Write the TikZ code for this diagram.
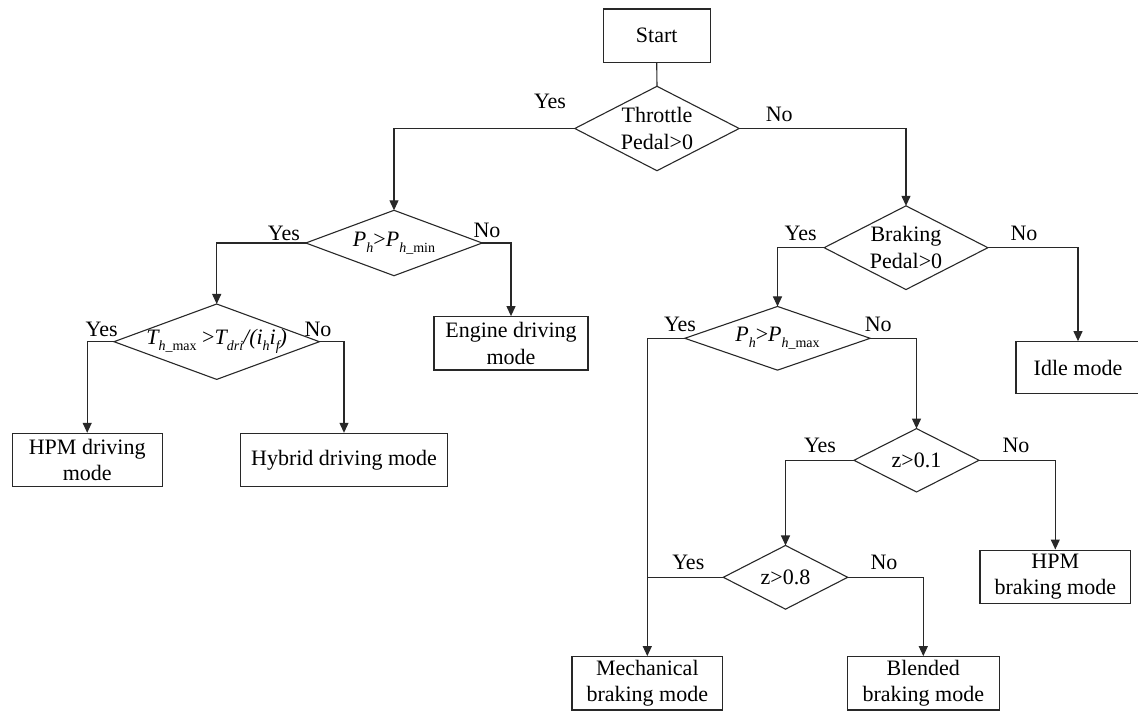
\documentclass[tikz,border=0pt]{standalone}
\usepackage{fontspec}
\setmainfont{Liberation Serif}
\usetikzlibrary{arrows.meta}
\definecolor{ln}{RGB}{40,40,40}
\newcommand\sbs[1]{\raisebox{-0.28em}{\fontsize{14}{14}\selectfont #1}}
\begin{document}
\begin{tikzpicture}[x=1pt,y=-1pt,
  every node/.style={font=\fontsize{22}{26.6}\selectfont},
  box/.style={draw=ln, line width=1.1pt, inner sep=0pt, align=center},
  dbox/.style={inner sep=0pt, align=center},
  lbl/.style={inner sep=0pt},
  conn/.style={draw=ln, line width=1.1pt},
  arr/.style={conn, -{Triangle[length=10pt,width=9pt]}}]
\fill[white] (0,0) rectangle (1138,711);
\useasboundingbox (0,0) rectangle (1138,711);

% boxes
\node[box, minimum width=106.7pt, minimum height=53.3pt] (start) at (656.7,35.7) {Start};
\node[box, minimum width=154pt, minimum height=53.3pt] (engine) at (511,343.3) {Engine driving\\mode};
\node[box, minimum width=150pt, minimum height=53.3pt] (hpmd) at (87.2,460) {HPM driving\\mode};
\node[box, minimum width=206.6pt, minimum height=53.3pt] (hybrid) at (344,460) {Hybrid driving mode};
\node[box, minimum width=124pt, minimum height=51.6pt] (idle) at (1078,367.5) {Idle mode};
\node[box, minimum width=150.7pt, minimum height=53.3pt] (mech) at (647.3,683.3) {Mechanical\\braking mode};
\node[box, minimum width=151.6pt, minimum height=53.3pt] (blend) at (923.3,683.3) {Blended\\braking mode};
\node[box, minimum width=150.7pt, minimum height=53.3pt] (hpmb) at (1055.3,576.7) {HPM\\braking mode};

% decisions
\node[dbox, minimum width=164pt, minimum height=84pt] (thr) at (657,128.5) {Throttle\\Pedal>0};
\node[dbox, minimum width=176pt, minimum height=65pt] (phmin) at (394,243) {{\itshape P}\sbs{\itshape h}>{\itshape P}\sbs{{\itshape h}\_min}};
\node[dbox, minimum width=205pt, minimum height=75pt] (td) at (216.7,341.7) {{\itshape T}\sbs{{\itshape h}\_max} >{\itshape T}\sbs{\itshape dri}{\itshape /(i}\sbs{\itshape h}{\itshape i}\sbs{\itshape f}{\itshape )}};
\node[dbox, minimum width=163.3pt, minimum height=83.3pt] (brk) at (906,247.7) {Braking\\Pedal>0};
\node[dbox, minimum width=185pt, minimum height=63.3pt] (phmax) at (777.5,338.3) {{\itshape P}\sbs{\itshape h}>{\itshape P}\sbs{{\itshape h}\_max}};
\node[dbox, minimum width=124.7pt, minimum height=63pt] (zone) at (916.5,460.3) {z>0.1};
\node[dbox, minimum width=124pt, minimum height=63.3pt] (zeight) at (785.5,577.3) {z>0.8};

\foreach \d in {thr,phmin,td,brk,phmax,zone,zeight}
  \draw[conn] (\d.north) -- (\d.east) -- (\d.south) -- (\d.west) -- cycle;

% connectors
\draw[conn] (start.south) -- (thr.north);
\draw[arr] (thr.west) -| (phmin.north);
\draw[arr] (thr.east) -| (brk.north);
\draw[arr] (phmin.west) -| (td.north);
\draw[arr] (phmin.east) -| (engine.north);
\draw[arr] (td.west) -| (hpmd.north);
\draw[arr] (td.east) -| (hybrid.north);
\draw[arr] (brk.west) -| (phmax.north);
\draw[arr] (brk.east) -| (idle.north);
\draw[arr] (phmax.west) -| (mech.north);
\draw[arr] (phmax.east) -| (zone.north);
\draw[arr] (zone.west) -| (zeight.north);
\draw[arr] (zone.east) -| (hpmb.north);
\draw[conn] (zeight.west) -- (zeight.west -| mech.north);
\draw[arr] (zeight.east) -| (blend.north);

% labels
\node[lbl] (l1) at (550,101) {Yes};
\node[lbl] (l2) at (779.3,114) {No};
\node[lbl] (l3) at (284,233) {Yes};
\node[lbl] (l4) at (487,230) {No};
\node[lbl] (l5) at (101.7,329) {Yes};
\node[lbl] (l6) at (318,329) {No};
\node[lbl] (l7) at (800.7,233) {Yes};
\node[lbl] (l8) at (1024,233) {No};
\node[lbl] (l9) at (680,324) {Yes};
\node[lbl] (l10) at (878.3,324) {No};
\node[lbl] (l11) at (820,445) {Yes};
\node[lbl] (l12) at (1016,445) {No};
\node[lbl] (l13) at (688.3,562.7) {Yes};
\node[lbl] (l14) at (884,562.7) {No};
\end{tikzpicture}
\end{document}
